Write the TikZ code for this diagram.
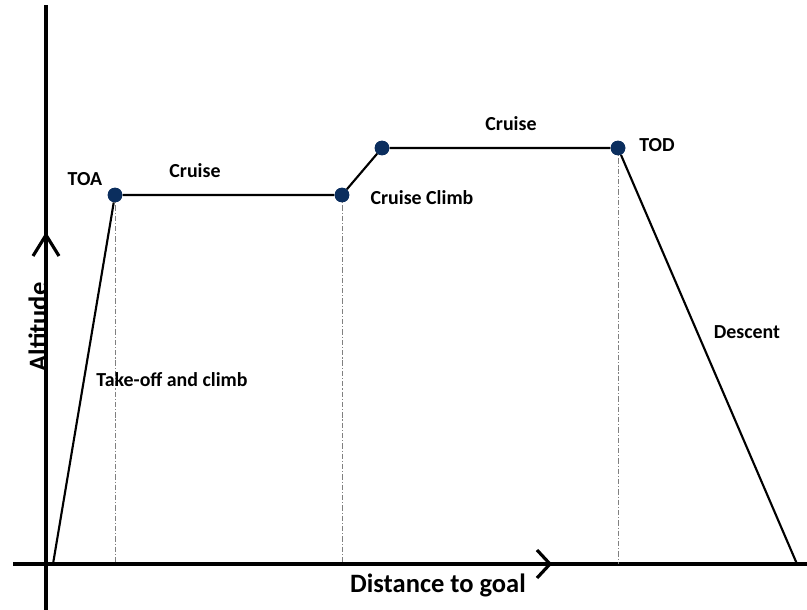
\documentclass[tikz,border=0pt]{standalone}
\usepackage{fontspec}
\setmainfont{Carlito}
\usepackage{xcolor}
\usepackage{tikz}
\usetikzlibrary{positioning,calc}

\definecolor{dotblue}{HTML}{0B2E5E}

\begin{document}
\begin{tikzpicture}[
  x=0.0265cm, y=-0.0265cm,
  axis/.style={line width=2.4pt},
  leg/.style={line width=1.6pt},
  drop/.style={dash pattern=on 4pt off 1.5pt on 0.8pt off 1.5pt, gray, line width=0.5pt},
  wpt/.style={circle, fill=dotblue, inner sep=0pt, minimum size=11pt},
  lbl/.style={font=\bfseries\fontsize{15}{17}\selectfont, inner sep=1pt},
  axlbl/.style={font=\bfseries\fontsize{20}{23}\selectfont, inner sep=1pt}
]
\useasboundingbox (0,0) rectangle (807,610);

% axes
\coordinate (ytop) at (46,5);
\coordinate (ybot) at (46,610);
\coordinate (xleft) at (13,564);
\coordinate (xright) at (807,564);
\draw[axis] (ybot) -- (ytop);
\draw[axis] (xleft) -- (xright);
\coordinate (ychev) at (46,235);
\coordinate (xchev) at (550,564);
\draw[axis] ($(ychev)+(-13,21)$) -- (ychev) -- ($(ychev)+(13,21)$);
\draw[axis] ($(xchev)+(-13,-14)$) -- (xchev) -- ($(xchev)+(-13,14)$);

% flight profile
\coordinate (start) at (53,564);
\node[wpt] (toa) at (115,195) {};
\node[wpt] (cc1) at (342,195) {};
\node[wpt] (cc2) at (382,148) {};
\node[wpt] (tod) at (618,148) {};
\coordinate (land) at (797,564);

\draw[drop] (toa.center) -- (toa.center |- xleft);
\draw[drop] (cc1.center) -- (cc1.center |- xleft);
\draw[drop] (tod.center) -- (tod.center |- xleft);

\draw[leg] (start) -- (toa) -- (cc1) -- (cc2) -- (tod) -- (land);
\node[wpt] at (toa) {};
\node[wpt] at (cc1) {};
\node[wpt] at (cc2) {};
\node[wpt] at (tod) {};

% labels
\node[lbl] (toalbl) at (85,179) {TOA};
\node[lbl] (cruise1) at (195,171) {Cruise};
\node[lbl] (climb) at (422,198) {Cruise Climb};
\node[lbl] (cruise2) at (511,124) {Cruise};
\node[lbl] (todlbl) at (657,145) {TOD};
\node[lbl] (descent) at (747,332) {Descent};
\node[lbl] (takeoff) at (172,380) {Take-off and climb};
\node[axlbl, rotate=90] (alt) at (38,327) {Altitude};
\node[axlbl] (dist) at (438,585) {Distance to goal};
\end{tikzpicture}
\end{document}
